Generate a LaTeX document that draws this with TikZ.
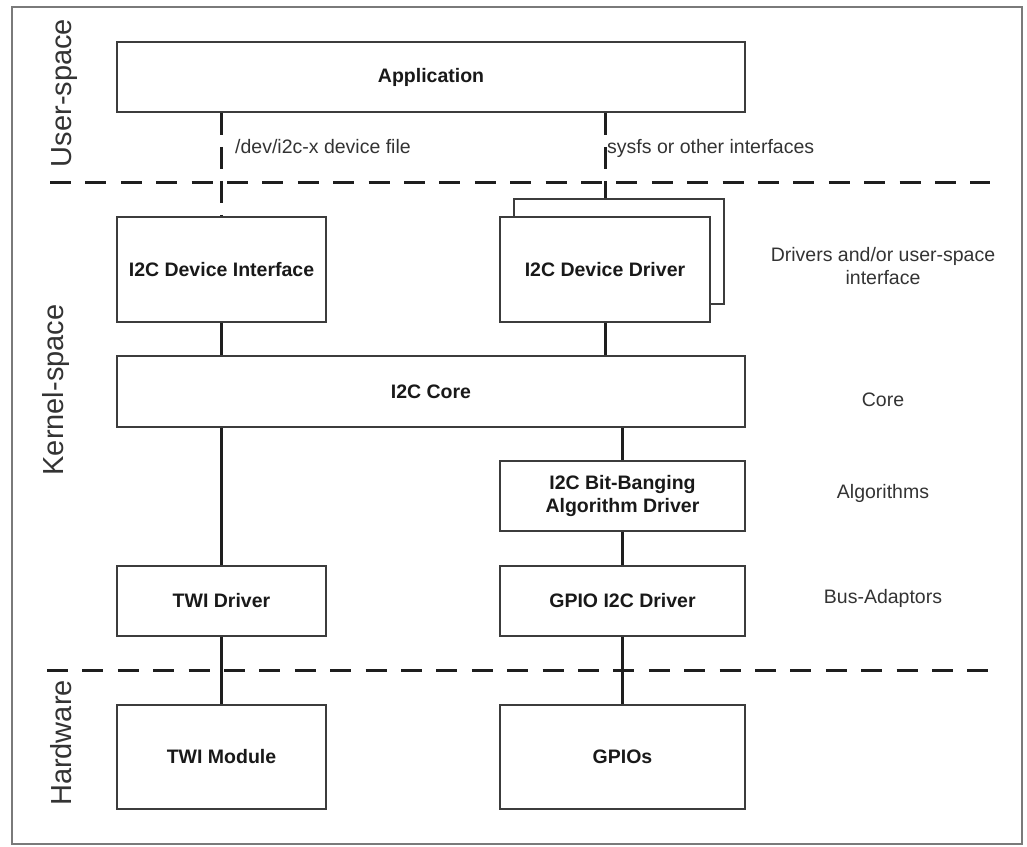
\documentclass[tikz,border=0pt]{standalone}
\usepackage{fontspec}
\setmainfont{Liberation Sans}
\begin{document}
\begin{tikzpicture}[x=1pt,y=-1pt,
  box/.style={draw=boxline,line width=1.8pt,fill=white,inner sep=0pt,
    font=\bfseries\fontsize{19.5}{23}\selectfont,text=black!90,align=center},
  link/.style={draw=linkc,line width=3pt},
  vlink/.style={link,dash pattern=on 22pt off 12pt},
  sep/.style={draw=linkc,line width=3pt,dash pattern=on 21pt off 14.4pt},
  lbl/.style={font=\fontsize{19.5}{23}\selectfont,text=black!80,inner sep=0pt,align=center},
  zone/.style={font=\fontsize{29}{34}\selectfont,text=black!80,inner sep=0pt,rotate=90,anchor=base}]
\definecolor{boxline}{HTML}{3C3C3C}
\definecolor{linkc}{HTML}{1E1E1E}
\definecolor{framec}{HTML}{7A7A7A}
\useasboundingbox (0,0) rectangle (1027,846);
% outer frame
\draw[framec,line width=2.6pt] (12,7) rectangle (1022,844);

% layer separators
\coordinate (s1a) at (50,182);  \coordinate (s1b) at (990,182);
\coordinate (s2a) at (47,670);  \coordinate (s2b) at (990,670);
\draw[sep] (s1a) -- (s1b);
\draw[sep] (s2a) -- (s2b);

% zone names
\node[zone] (zu) at (71,93)  {User-space};
\node[zone] (zk) at (63,390) {Kernel-space};
\node[zone] (zh) at (71,743) {Hardware};

% boxes
\node[box,minimum width=628pt,minimum height=70pt]  (app)   at (431,77)    {Application};
\node[box,minimum width=209pt,minimum height=105pt] (devif) at (221.5,269.5) {I2C Device Interface};
\node[box,minimum width=210pt,minimum height=105pt] (drvb)  at (619,251.5) {};
\node[box,minimum width=210pt,minimum height=105pt] (drv)   at (605,269.5) {I2C Device Driver};
\node[box,minimum width=628pt,minimum height=71pt]  (core)  at (431,391.5) {I2C Core};
\node[box,minimum width=245pt,minimum height=70pt]  (bb)    at (622.5,496) {I2C Bit-Banging\\Algorithm Driver};
\node[box,minimum width=209pt,minimum height=70pt]  (twid)  at (221.5,601) {TWI Driver};
\node[box,minimum width=245pt,minimum height=70pt]  (gpiod) at (622.5,601) {GPIO I2C Driver};
\node[box,minimum width=209pt,minimum height=104pt] (twim)  at (221.5,757) {TWI Module};
\node[box,minimum width=245pt,minimum height=104pt] (gpios) at (622.5,757) {GPIOs};

% user-space interfaces
\draw[vlink] (devif.north |- app.south) -- (devif.north);
\draw[vlink] (drv.north |- app.south) -- (drv.north |- drvb.north);
\node[lbl,anchor=base west] (ldev) at (235,153) {/dev/i2c-x device file};
\node[lbl,anchor=base west] (lsys) at (607,153) {sysfs or other interfaces};

% kernel connections
\draw[link] (devif.south) -- (devif.south |- core.north);
\draw[link] (drv.south) -- (drv.south |- core.north);
\draw[link] (twid.north |- core.south) -- (twid.north);
\draw[link] (bb.north |- core.south) -- (bb.north);
\draw[link] (bb.south) -- (gpiod.north);
\draw[link] (twid.south) -- (twim.north);
\draw[link] (gpiod.south) -- (gpios.north);

% layer descriptions
\node[lbl] (ldrv)  at (883,266.5) {Drivers and/or user-space\\interface};
\node[lbl] (lcore) at (883,400) {Core};
\node[lbl] (lalg)  at (883,493) {Algorithms};
\node[lbl] (lbus)  at (883,598) {Bus-Adaptors};
\end{tikzpicture}
\end{document}
